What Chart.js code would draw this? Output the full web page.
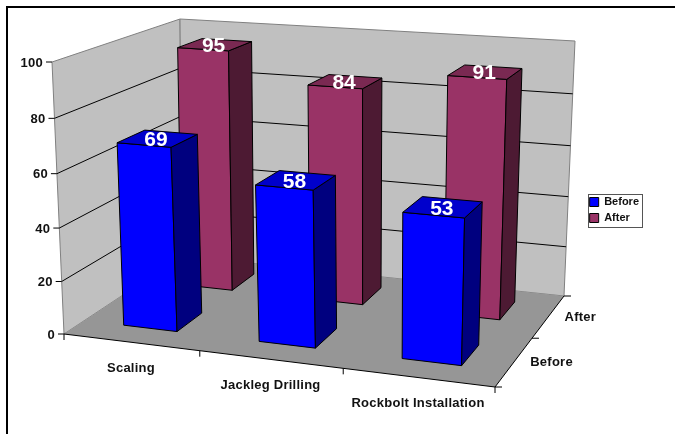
<!DOCTYPE html>
<html>
<head>
<meta charset="utf-8">
<style>
  html, body { margin: 0; padding: 0; background: #fff; }
  canvas { display: block; }
</style>
<script src="https://cdn.jsdelivr.net/npm/chart.js@4/dist/chart.umd.min.js"></script>
</head>
<body>
<canvas id="chart" width="675" height="434"></canvas>
<script>
const categories = ["Scaling", "Jackleg Drilling", "Rockbolt Installation"];
const seriesNames = ["Before", "After"];
const beforeValues = [69, 58, 53];
const afterValues = [95, 84, 91];
const valueTicks = [0, 20, 40, 60, 80, 100];

const FONT = '"Liberation Sans", Arial, sans-serif';

// corners of the box, order: front-left, front-right, back-right, back-left
const floorQuad = [[64, 334], [495, 387], [564, 296], [182, 256]];
const ceilQuad = [[52, 62], [504, 94], [575, 41], [180, 19]];
const heightBend = 0.045; // heights stretch a little towards the top
const depthFront = 0.095; // bar extent in front of / behind its depth slot centre
const depthBack = 0.12;

const faces = {
  Before: { front: "#0000ff", top: "#0000cc", side: "#00007f" },
  After: { front: "#993366", top: "#7a2952", side: "#4d1a33" },
};

// unit square -> quad, perspective mapping
function quadMap(q) {
  const [[x0, y0], [x1, y1], [x2, y2], [x3, y3]] = q;
  const dx1 = x1 - x2, dx2 = x3 - x2, sx = x0 - x1 + x2 - x3;
  const dy1 = y1 - y2, dy2 = y3 - y2, sy = y0 - y1 + y2 - y3;
  const den = dx1 * dy2 - dx2 * dy1;
  const g = (sx * dy2 - dx2 * sy) / den;
  const h = (dx1 * sy - sx * dy1) / den;
  const a = x1 - x0 + g * x1, b = x3 - x0 + h * x3;
  const d = y1 - y0 + g * y1, e = y3 - y0 + h * y3;
  return (u, w) => {
    const k = g * u + h * w + 1;
    return [(a * u + b * w + x0) / k, (d * u + e * w + y0) / k];
  };
}

const floorAt = quadMap(floorQuad);
const ceilAt = quadMap(ceilQuad);

// u along categories, v along values, w into the depth, all 0..1
function project(u, v, w) {
  const f = floorAt(u, w);
  const c = ceilAt(u, w);
  const t = v / (1 + heightBend * (1 - v));
  return [f[0] + (c[0] - f[0]) * t, f[1] + (c[1] - f[1]) * t];
}

function poly(ctx, pts, fill, stroke) {
  ctx.beginPath();
  pts.forEach((p, i) => (i ? ctx.lineTo(p[0], p[1]) : ctx.moveTo(p[0], p[1])));
  ctx.closePath();
  if (fill) {
    ctx.fillStyle = fill;
    ctx.fill();
  }
  if (stroke) {
    ctx.strokeStyle = stroke;
    ctx.lineWidth = 1;
    ctx.stroke();
  }
}

function line(ctx, a, b, color, width) {
  ctx.beginPath();
  ctx.moveTo(a[0], a[1]);
  ctx.lineTo(b[0], b[1]);
  ctx.strokeStyle = color;
  ctx.lineWidth = width || 1;
  ctx.stroke();
}

// bar chart whose bars are drawn as boxes standing in the projected floor
class Bar3DController extends Chart.BarController {
  draw() {
    const ctx = this.chart.ctx;
    const meta = this.getMeta();
    const xs = meta.xScale, ys = meta.yScale;
    const zs = this.chart.scales.z;
    const name = this.getDataset().label;
    const col = faces[name];
    const zMid = zs.getDecimalForPixel(zs.getPixelForValue(name));
    const w0 = zMid - depthFront, w1 = zMid + depthBack;

    meta.data.forEach((bar) => {
      const u0 = xs.getDecimalForPixel(bar.x - bar.width / 2);
      const u1 = xs.getDecimalForPixel(bar.x + bar.width / 2);
      const v0 = ys.getDecimalForPixel(bar.base);
      const v1 = ys.getDecimalForPixel(bar.y);
      poly(ctx, [project(u0, v0, w0), project(u1, v0, w0), project(u1, v1, w0), project(u0, v1, w0)], col.front, "#000");
      poly(ctx, [project(u1, v0, w0), project(u1, v0, w1), project(u1, v1, w1), project(u1, v1, w0)], col.side, "#000");
      poly(ctx, [project(u0, v1, w0), project(u1, v1, w0), project(u1, v1, w1), project(u0, v1, w1)], col.top, "#000");
    });
  }
}
Bar3DController.id = "bar3d";
Bar3DController.defaults = Chart.BarController.defaults;
Bar3DController.overrides = Chart.BarController.overrides;
Chart.register(Bar3DController);

const pagePlugin = {
  id: "pageFrame",
  beforeDraw(chart) {
    const ctx = chart.ctx;
    // left and top rule of the page
    ctx.fillStyle = "#000";
    ctx.fillRect(6, 6, chart.width - 6, 2);
    ctx.fillRect(6, 6, 2, chart.height - 6);
    // legend box, fitted round the entries
    const boxes = chart.legend.legendHitBoxes;
    const first = boxes[0], last = boxes[boxes.length - 1];
    const left = Math.min(first.left, last.left) - 2;
    const right = Math.max(first.left + first.width, last.left + last.width) + 3;
    ctx.strokeStyle = "#555";
    ctx.lineWidth = 1;
    ctx.strokeRect(Math.round(left) + 0.5, Math.round(first.top - 3) + 0.5, Math.round(right - left), Math.round(last.top + last.height - first.top + 6));
  },
};

const boxPlugin = {
  id: "box3d",
  beforeDatasetsDraw(chart) {
    const ctx = chart.ctx;
    const ys = chart.scales.y, xs = chart.scales.x, zs = chart.scales.z;
    const vOf = (val) => ys.getDecimalForPixel(ys.getPixelForValue(val));

    // walls and floor
    poly(ctx, [project(0, 0, 0), project(0, 1, 0), project(0, 1, 1), project(0, 0, 1)], "#c0c0c0", "#808080");
    poly(ctx, [project(0, 0, 1), project(1, 0, 1), project(1, 1, 1), project(0, 1, 1)], "#c0c0c0", "#808080");
    poly(ctx, [project(0, 0, 0), project(1, 0, 0), project(1, 0, 1), project(0, 0, 1)], "#969696", null);
    line(ctx, project(0, 0, 0), project(1, 0, 0), "#000");
    line(ctx, project(1, 0, 0), project(1, 0, 1), "#000");

    // grid lines and value axis
    ctx.font = "bold 13px " + FONT;
    ctx.letterSpacing = "0.25px";
    ys.ticks.forEach((tick) => {
      const v = vOf(tick.value);
      const a = project(0, v, 0), b = project(0, v, 1), c = project(1, v, 1);
      if (tick.value > 0 && tick.value < 100) {
        line(ctx, a, b, "#000");
        line(ctx, b, c, "#000");
      }
      line(ctx, [a[0] - 6, a[1]], a, "#000");
      ctx.textAlign = "right";
      ctx.textBaseline = "middle";
      ctx.fillStyle = "#111";
      ctx.fillText(String(tick.value), a[0] - 9, a[1] + 1);
    });

    // tick marks along the front edge
    for (let i = 0; i <= categories.length; i++) {
      const p = project(i / categories.length, 0, 0);
      line(ctx, p, [p[0], p[1] + 6], "#000");
    }
    // tick marks along the right edge
    for (let i = 0; i <= seriesNames.length; i++) {
      const p = project(1, 0, i / seriesNames.length);
      line(ctx, p, [p[0] + 7, p[1]], "#000");
    }

    ctx.fillStyle = "#111";
    ctx.textBaseline = "middle";
    categories.forEach((cat) => {
      const u = xs.getDecimalForPixel(xs.getPixelForValue(cat));
      const p = project(u, 0, 0);
      ctx.textAlign = "center";
      ctx.fillText(cat, p[0], p[1] + 26);
    });
    seriesNames.forEach((name) => {
      const w = zs.getDecimalForPixel(zs.getPixelForValue(name));
      const p = project(1, 0, w);
      ctx.textAlign = "left";
      ctx.fillText(name, p[0] + 16, p[1] + 1);
    });
    ctx.letterSpacing = "0px";
  },
  afterDatasetsDraw(chart) {
    const ctx = chart.ctx;
    const zs = chart.scales.z;
    ctx.font = "bold 21px " + FONT;
    ctx.fillStyle = "#fff";
    ctx.textAlign = "center";
    ctx.textBaseline = "middle";
    chart.data.datasets.forEach((ds, di) => {
      const meta = chart.getDatasetMeta(di);
      const w = zs.getDecimalForPixel(zs.getPixelForValue(ds.label));
      meta.data.forEach((bar, i) => {
        const u = meta.xScale.getDecimalForPixel(bar.x);
        const v = meta.yScale.getDecimalForPixel(bar.y);
        const p = project(u, v, w);
        ctx.fillText(String(ds.data[i]), p[0], p[1] + 1);
      });
    });
  },
};

new Chart(document.getElementById("chart"), {
  type: "bar3d",
  data: {
    labels: categories,
    datasets: [
      { label: seriesNames[0], data: beforeValues, backgroundColor: faces.Before.front, borderColor: "#000", borderWidth: 1 },
      { label: seriesNames[1], data: afterValues, backgroundColor: faces.After.front, borderColor: "#000", borderWidth: 1 },
    ],
  },
  options: {
    responsive: false,
    animation: false,
    grouped: false,
    categoryPercentage: 1,
    barPercentage: 0.4,
    layout: { padding: { right: 26, bottom: 14 } },
    scales: {
      x: { display: false },
      y: {
        display: false,
        min: 0,
        max: 100,
        afterBuildTicks: (scale) => {
          scale.ticks = valueTicks.map((v) => ({ value: v }));
        },
      },
      z: { type: "category", axis: "x", position: "bottom", display: false, labels: seriesNames, offset: true },
    },
    plugins: {
      tooltip: { enabled: false },
      legend: {
        position: "right",
        labels: {
          boxWidth: 9,
          boxHeight: 9,
          padding: 5,
          color: "#111",
          font: { family: FONT, size: 11, weight: "bold" },
        },
      },
    },
  },
  plugins: [pagePlugin, boxPlugin],
});
</script>
</body>
</html>
